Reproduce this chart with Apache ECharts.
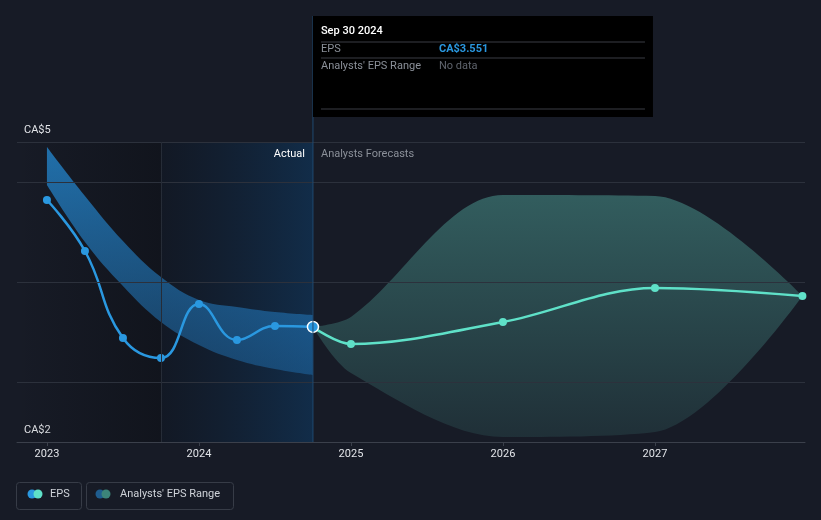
<!DOCTYPE html>
<html>
<head>
<meta charset="utf-8">
<style>
  html, body { margin: 0; padding: 0; background: #171b26; }
  #chart { width: 821px; height: 520px; }
</style>
<script src="https://cdn.jsdelivr.net/npm/echarts@6/dist/echarts.min.js"></script>
</head>
<body>
<div id="chart"></div>
<script>
// ---------- data ----------
const xMin = 2022.803;
const xMax = 2027.987;
const yMin = 2.4;
const yMax = 5.4;
const years = [2023, 2024, 2025, 2026, 2027];
const yTickValues = [2.4, 5.4];
const yTickLabels = ['CA$2', 'CA$5'];
const gridValues = [3, 4, 5, 5.4];

// actual EPS, quarterly (decimal years)
const actualX = [2023.0, 2023.25, 2023.5, 2023.75, 2024.0, 2024.25, 2024.5, 2024.75];
const actualEPS = [4.82, 4.31, 3.44, 3.24, 3.78, 3.42, 3.56, 3.551];
// past range band
const pastUpper = [5.35, 4.86, 4.41, 4.05, 3.82, 3.75, 3.70, 3.67];
const pastLower = [4.97, 4.40, 3.96, 3.60, 3.37, 3.22, 3.13, 3.07];

// forecast
const fcX = [2024.75, 2025.0, 2026.0, 2027.0, 2027.97];
const fcEPS = [3.551, 3.38, 3.60, 3.94, 3.86];
const fcUpper = [3.551, 3.65, 4.87, 4.86, 3.86];
const fcLower = [3.551, 3.09, 2.45, 2.50, 3.86];

const highlightStart = 2023.75;
const dividerX = 2024.75;
const tooltipDate = 'Sep 30 2024';
const tooltipEPS = 'CA$3.551';

// ---------- styles ----------
const BLUE = '#2a98e0';
const TEAL = '#5fe1c8';
const FONT = 'Roboto, "Noto Sans", sans-serif';

const pair = (xs, ys) => xs.map((x, i) => [x, ys[i]]);
// band rows are [yValue, x] so that stacking happens on the y dimension
const bandLow = (xs, lo) => xs.map((x, i) => [lo[i], x]);
const bandDiff = (xs, up, lo) => xs.map((x, i) => [+(up[i] - lo[i]).toFixed(4), x]);

const chart = echarts.init(document.getElementById('chart'), null, { renderer: 'canvas' });

const option = {
  backgroundColor: '#171b26',
  animation: false,
  textStyle: { fontFamily: FONT },
  grid: { left: 17, right: 16, top: 142, bottom: 78, containLabel: false },
  xAxis: {
    type: 'value', min: xMin, max: xMax,
    axisLine: { show: true, lineStyle: { color: '#3b404b', width: 1 } },
    axisTick: { show: true, customValues: years, length: 4, lineStyle: { color: '#3b404b' } },
    axisLabel: { customValues: years, color: '#e2e4e8', fontSize: 11, margin: 7, fontFamily: FONT,
      formatter: v => String(Math.round(v)) },
    splitLine: { show: false }
  },
  yAxis: {
    type: 'value', min: yMin, max: yMax,
    axisLine: { show: false }, axisTick: { show: false }, splitLine: { show: false },
    axisLabel: {
      customValues: yTickValues, inside: true, margin: 7, align: 'left', verticalAlign: 'bottom',
      padding: [0, 0, 6, 0], color: '#e2e4e8', fontSize: 11, fontFamily: FONT,
      formatter: v => { const i = yTickValues.findIndex(t => Math.abs(t - v) < 1e-6); return i >= 0 ? yTickLabels[i] : ''; }
    }
  },
  series: [
    { // background regions + grid lines
      type: 'line', data: [], z: 0, silent: true, symbol: 'none',
      markArea: {
        silent: true, label: { show: false },
        data: [
          [{ xAxis: xMin, itemStyle: { color: { type: 'linear', x: 0, y: 0, x2: 1, y2: 0,
              colorStops: [{ offset: 0, color: 'rgba(6,8,12,0)' }, { offset: 1, color: 'rgba(6,8,12,0.35)' }] } } },
           { xAxis: highlightStart }],
          [{ xAxis: highlightStart, itemStyle: { color: { type: 'linear', x: 0, y: 0, x2: 1, y2: 0,
              colorStops: [{ offset: 0, color: 'rgba(10,20,34,0.35)' }, { offset: 1, color: 'rgba(12,62,108,0.5)' }] } } },
           { xAxis: dividerX }]
        ]
      },
      markLine: {
        silent: true, symbol: ['none', 'none'], label: { show: false },
        lineStyle: { color: '#2c313c', width: 1, type: 'solid' },
        data: gridValues.map(v => ({ yAxis: v })).concat([{ xAxis: highlightStart, lineStyle: { color: '#262c37' } }])
      }
    },
    { // past band lower (invisible)
      type: 'line', stack: 'past', data: bandLow(actualX, pastLower), encode: { x: 1, y: 0 },
      smooth: 0.4, symbol: 'none', z: 1, lineStyle: { opacity: 0 }, silent: true
    },
    { // past band
      type: 'line', stack: 'past', data: bandDiff(actualX, pastUpper, pastLower), encode: { x: 1, y: 0 },
      smooth: 0.4, symbol: 'none', z: 1, lineStyle: { opacity: 0 }, silent: true,
      areaStyle: { opacity: 1, color: { type: 'linear', x: 0, y: 0, x2: 0, y2: 1,
        colorStops: [{ offset: 0, color: 'rgba(36,140,215,0.75)' }, { offset: 1, color: 'rgba(36,130,205,0.38)' }] } }
    },
    { // forecast band lower (invisible)
      type: 'line', stack: 'fc', data: bandLow(fcX, fcLower), encode: { x: 1, y: 0 },
      smooth: 0.32, symbol: 'none', z: 1, lineStyle: { opacity: 0 }, silent: true
    },
    { // forecast band
      type: 'line', stack: 'fc', data: bandDiff(fcX, fcUpper, fcLower), encode: { x: 1, y: 0 },
      smooth: 0.32, symbol: 'none', z: 1, lineStyle: { opacity: 0 }, silent: true,
      areaStyle: { opacity: 1, color: { type: 'linear', x: 0, y: 0, x2: 0, y2: 1,
        colorStops: [{ offset: 0, color: 'rgba(80,165,155,0.48)' }, { offset: 1, color: 'rgba(80,165,155,0.15)' }] } }
    },
    { // forecast EPS line
      type: 'line', data: pair(fcX, fcEPS), smooth: 0.35, z: 3,
      symbol: (v, p) => p.dataIndex === 0 ? 'none' : 'circle', symbolSize: 8,
      lineStyle: { color: TEAL, width: 2.5 }, itemStyle: { color: TEAL }
    },
    { // actual EPS line
      type: 'line', z: 4, smooth: 0.45, symbol: 'circle', symbolSize: 8,
      data: pair(actualX, actualEPS).map((d, i, a) => i === a.length - 1
        ? { value: d, symbolSize: 11, itemStyle: { color: BLUE, borderColor: '#ffffff', borderWidth: 1.5 } }
        : { value: d }),
      lineStyle: { color: BLUE, width: 2.5 }, itemStyle: { color: BLUE }
    }
  ]
};
chart.setOption(option);

// ---------- overlays positioned through the chart's scales ----------
const X = chart.convertToPixel({ xAxisIndex: 0 }, dividerX);
const yTop = chart.convertToPixel({ yAxisIndex: 0 }, yMax);
const yBot = chart.convertToPixel({ yAxisIndex: 0 }, yMin);

const graphic = [
  { type: 'line', z: 50, shape: { x1: X, y1: 16, x2: X, y2: yBot }, style: { stroke: '#1f4a70', lineWidth: 1 }, silent: true },
  { type: 'text', z: 50, x: X - 8, y: yTop + 12, style: { text: 'Actual', fill: '#ffffff', font: '11px ' + FONT, align: 'right', verticalAlign: 'middle' } },
  { type: 'text', z: 50, x: X + 8, y: yTop + 12, style: { text: 'Analysts Forecasts', fill: '#8b9099', font: '11px ' + FONT, align: 'left', verticalAlign: 'middle' } },
  // tooltip
  { type: 'rect', z: 60, shape: { x: X, y: 16, width: 340, height: 101 }, style: { fill: '#000000' } },
  { type: 'text', z: 61, x: X + 8, y: 31, style: { text: tooltipDate, fill: '#ffffff', font: '500 11px ' + FONT, verticalAlign: 'middle' } },
  { type: 'line', z: 61, shape: { x1: X + 8, y1: 42, x2: X + 332, y2: 42 }, style: { stroke: '#3a3d44', lineWidth: 1 } },
  { type: 'text', z: 61, x: X + 8, y: 49, style: { text: 'EPS', fill: '#8b9099', font: '11px ' + FONT, verticalAlign: 'middle' } },
  { type: 'text', z: 61, x: X + 126, y: 49, style: { text: tooltipEPS, fill: BLUE, font: 'bold 11px ' + FONT, verticalAlign: 'middle' } },
  { type: 'line', z: 61, shape: { x1: X + 8, y1: 58, x2: X + 332, y2: 58 }, style: { stroke: '#3a3d44', lineWidth: 1 } },
  { type: 'text', z: 61, x: X + 8, y: 66, style: { text: "Analysts' EPS Range", fill: '#8b9099', font: '11px ' + FONT, verticalAlign: 'middle' } },
  { type: 'text', z: 61, x: X + 126, y: 66, style: { text: 'No data', fill: '#5f646d', font: '11px ' + FONT, verticalAlign: 'middle' } },
  { type: 'line', z: 61, shape: { x1: X + 8, y1: 109, x2: X + 332, y2: 109 }, style: { stroke: '#3a3d44', lineWidth: 1 } },
  // legend
  { type: 'rect', z: 50, shape: { x: 16.5, y: 482.5, width: 65, height: 27, r: 3 }, style: { fill: 'none', stroke: '#373c47', lineWidth: 1 } },
  { type: 'circle', z: 51, shape: { cx: 32, cy: 494, r: 4.5 }, style: { fill: BLUE } },
  { type: 'circle', z: 52, shape: { cx: 38, cy: 494, r: 4.5 }, style: { fill: TEAL } },
  { type: 'text', z: 51, x: 50, y: 494, style: { text: 'EPS', fill: '#cfd3d9', font: '11px ' + FONT, verticalAlign: 'middle' } },
  { type: 'rect', z: 50, shape: { x: 86.5, y: 482.5, width: 147, height: 27, r: 3 }, style: { fill: 'none', stroke: '#373c47', lineWidth: 1 } },
  { type: 'circle', z: 51, shape: { cx: 100, cy: 494, r: 4.5 }, style: { fill: '#1f5d8f' } },
  { type: 'circle', z: 52, shape: { cx: 106, cy: 494, r: 4.5 }, style: { fill: '#3c8479' } },
  { type: 'text', z: 51, x: 120, y: 494, style: { text: "Analysts' EPS Range", fill: '#cfd3d9', font: '11px ' + FONT, verticalAlign: 'middle' } }
];
chart.setOption({ graphic: graphic });
</script>
</body>
</html>
